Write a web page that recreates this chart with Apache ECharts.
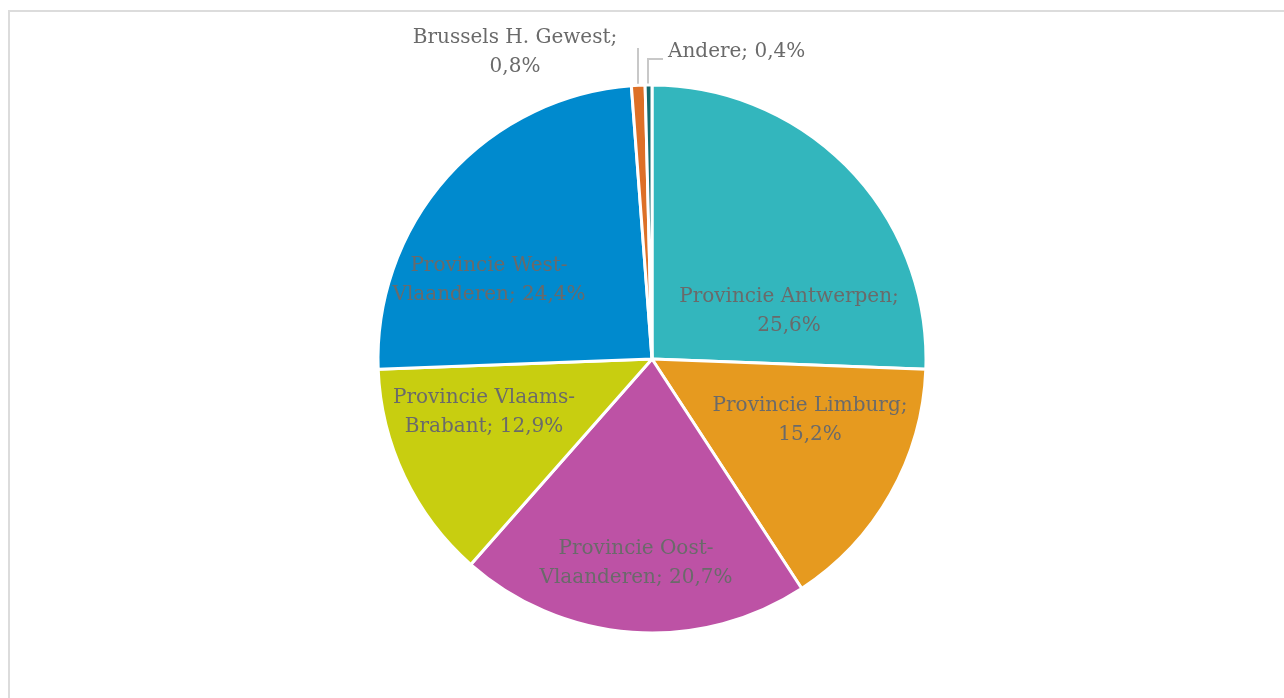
<!DOCTYPE html>
<html>
<head>
<meta charset="utf-8">
<script src="https://cdn.jsdelivr.net/npm/echarts@6/dist/echarts.min.js"></script>
<style>
html,body{margin:0;padding:0;background:#fff;overflow:hidden;}
#frame{position:absolute;left:8px;top:10px;width:1300px;height:720px;border:2px solid #dcdcdc;box-sizing:border-box;}
#chart{position:absolute;left:0;top:0;width:1284px;height:698px;}
</style>
</head>
<body>
<div id="frame"></div>
<div id="chart"></div>
<script>
const categories = ['Provincie Antwerpen','Provincie Limburg','Provincie Oost-Vlaanderen','Provincie Vlaams-Brabant','Provincie West-Vlaanderen','Brussels H. Gewest','Andere'];
const labelTexts = ['Provincie Antwerpen;\n25,6%','Provincie Limburg;\n15,2%','Provincie Oost-\nVlaanderen; 20,7%','Provincie Vlaams-\nBrabant; 12,9%','Provincie West-\nVlaanderen; 24,4%','Brussels H. Gewest;\n0,8%','Andere; 0,4%'];
const values = [25.6, 15.2, 20.7, 12.9, 24.4, 0.8, 0.4];
const colors = ['#33B6BD','#E69A1F','#BD52A5','#C8CE10','#008ACE','#DD7027','#13696E'];
// label anchor positions (layout only)
const labelPos = [[789,311],[810,420],[636,563],[484,412],[489,280],[515,52],[668,52]];
const labelAlign = ['center','center','center','center','center','center','left'];
const leaderLines = {5: [[638,86],[638,68],[638,48]], 6: [[648,86],[648,59],[663,59]]};

const chart = echarts.init(document.getElementById('chart'));
const data = values.map((v,i)=>{
  const small = i >= 5;
  return {
    value: v, name: categories[i],
    itemStyle: {color: colors[i]},
    label: {position: small ? 'outside' : 'inside', formatter: labelTexts[i]},
    labelLine: {show: small, lineStyle: {color: '#c8c8c8', width: 2}, length: 10, length2: 10}
  };
});
chart.setOption({
  animation: false,
  series: [{
    type: 'pie',
    center: [652, 359],
    radius: 274,
    startAngle: 90,
    clockwise: true,
    avoidLabelOverlap: false,
    itemStyle: {borderColor: '#ffffff', borderWidth: 3},
    label: {
      show: true,
      color: '#6a6a6a',
      fontFamily: 'DejaVu Serif',
      fontSize: 20,
      lineHeight: 29,
      align: 'center'
    },
    emphasis: {disabled: true},
    labelLayout: function(params){
      const i = params.dataIndex;
      const r = {x: labelPos[i][0], y: labelPos[i][1], align: labelAlign[i], verticalAlign: 'middle'};
      if (leaderLines[i]) r.labelLinePoints = leaderLines[i];
      return r;
    },
    data: data
  }]
});
</script>
</body>
</html>
